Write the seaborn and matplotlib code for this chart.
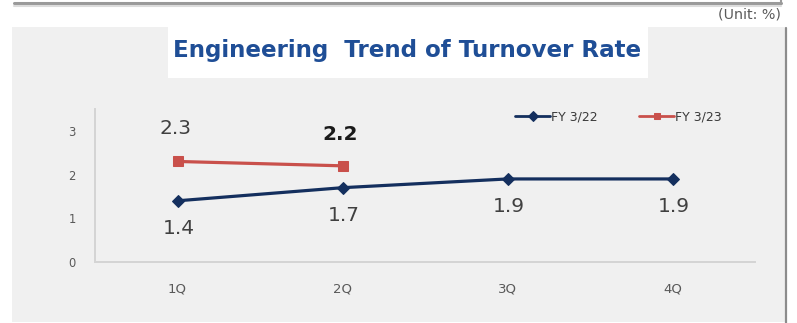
import matplotlib
matplotlib.use("Agg")
import matplotlib.pyplot as plt
from matplotlib.patches import Rectangle
from matplotlib.lines import Line2D
import seaborn as sns
import pandas as pd

# Quarterly turnover rate (%) of engineering staff
quarters = ["1Q", "2Q", "3Q", "4Q"]
fy22 = [1.4, 1.7, 1.9, 1.9]
fy23 = [2.3, 2.2]
series_names = ["FY 3/22", "FY 3/23"]
y_ticks = [0, 1, 2, 3]

sns.set_theme(style="white")
plt.rcParams["font.family"] = ["DejaVu Sans"]

W, H = 797, 323
fig = plt.figure(figsize=(W / 100, H / 100), dpi=100, facecolor="white")

def px_rect(x0, y0, x1, y1, **kw):
    # rectangle in pixel coordinates measured from the top-left corner
    fig.patches.append(Rectangle((x0 / W, 1 - y1 / H), (x1 - x0) / W, (y1 - y0) / H,
                                 transform=fig.transFigure, **kw))

def px_line(xs, ys, **kw):
    fig.lines.append(Line2D([x / W for x in xs], [1 - y / H for y in ys],
                            transform=fig.transFigure, **kw))

# panel background, title band and frame lines
px_rect(12, 27, 786, 322, facecolor="#f0f0f0", edgecolor="none", zorder=-3)
px_rect(168, 27, 648, 78, facecolor="white", edgecolor="none", zorder=-3)
px_line([14, 781], [3, 3], color="#9a9a9a", lw=2.2, zorder=-2)
px_line([14, 781], [6, 6], color="#dcdcdc", lw=1.5, zorder=-2)
px_line([781, 781], [0, 4], color="#9a9a9a", lw=1.5, zorder=-2)
px_line([786, 786], [28, 323], color="#8c8c8c", lw=1.6, zorder=-2)

fig.text(407 / W, 1 - 51 / H, "Engineering  Trend of Turnover Rate",
         ha="center", va="center", fontsize=16.6, fontweight="bold", color="#1f4e96")
fig.text(781 / W, 1 - 14 / H, "(Unit: %)", ha="right", va="center",
         fontsize=10.3, color="#5a5a5a")

ax = fig.add_axes([95 / W, 1 - 262 / H, (755 - 95) / W, (262 - 109) / H])
ax.set_facecolor("none")
ax.set_zorder(1)

df22 = pd.DataFrame({"quarter": quarters, "rate": fy22})
df23 = pd.DataFrame({"quarter": quarters[:len(fy23)], "rate": fy23})

blue = "#142f5e"
red = "#c9504b"
sns.lineplot(data=df22, x="quarter", y="rate", ax=ax, color=blue, lw=2.3,
             marker="D", markersize=6.5, markeredgecolor=blue, label=series_names[0],
             sort=False)
sns.lineplot(data=df23, x="quarter", y="rate", ax=ax, color=red, lw=2.3,
             marker="s", markersize=7, markeredgecolor=red, label=series_names[1],
             sort=False)

ax.set_xlim(-0.5, len(quarters) - 0.5)
ax.set_ylim(0, 3.5)
ax.set_yticks(y_ticks)
ax.set_xticks(range(len(quarters)))
ax.set_xticklabels(quarters)
ax.set_xlabel("")
ax.set_ylabel("")
ax.tick_params(axis="y", length=0, pad=14, labelsize=8.3, labelcolor="#595959")
ax.tick_params(axis="x", length=0, pad=15, labelsize=9.5, labelcolor="#595959")
for side in ("top", "right"):
    ax.spines[side].set_visible(False)
for side in ("left", "bottom"):
    ax.spines[side].set_color("#d4d4d4")
    ax.spines[side].set_linewidth(1.4)

# value labels: FY 3/22 below the line, FY 3/23 above it
for i, v in enumerate(fy22):
    ax.annotate(f"{v:.1f}", (i, v), xytext=(1, -28), textcoords="offset pixels",
                ha="center", va="center", fontsize=14.5, color="#404040")
bold_labels = {1}
for i, v in enumerate(fy23):
    ax.annotate(f"{v:.1f}", (i, v), xytext=(-2, 33 if i == 0 else 31),
                textcoords="offset pixels", ha="center", va="center", fontsize=14.5,
                color="#1a1a1a" if i in bold_labels else "#404040",
                fontweight="bold" if i in bold_labels else "normal")

leg = ax.legend(loc="center left", bbox_to_anchor=(515 / W, 1 - 117 / H),
                bbox_transform=fig.transFigure, ncol=2, frameon=False,
                handlelength=2.8, handletextpad=0.1, columnspacing=3.3,
                borderaxespad=0, borderpad=0,
                prop={"size": 9})
for t in leg.get_texts():
    t.set_color("#3a3a3a")
for h in leg.legend_handles:
    h.set_markersize(5)
    h.set_linewidth(2)

fig.savefig("out.png", dpi=100, facecolor="white")
